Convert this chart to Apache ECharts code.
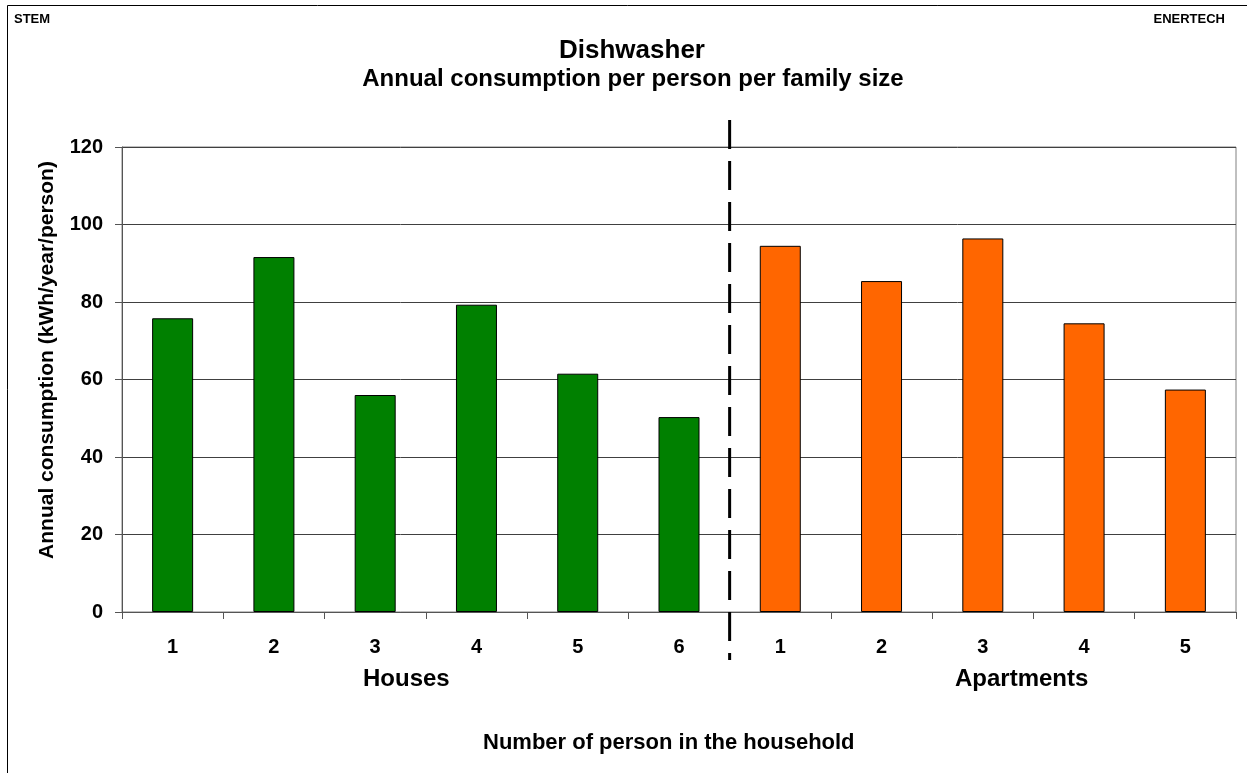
<!DOCTYPE html>
<html>
<head>
<meta charset="utf-8">
<script src="https://cdn.jsdelivr.net/npm/echarts@6/dist/echarts.min.js"></script>
<style>
html,body{margin:0;padding:0;background:#fff;}
#chart{width:1247px;height:773px;}
</style>
</head>
<body>
<div id="chart"></div>
<script>
var houseCategories = ['1','2','3','4','5','6'];
var apartmentCategories = ['1','2','3','4','5'];
var houseValues = [75.8, 91.6, 56.0, 79.3, 61.5, 50.3];
var apartmentValues = [94.5, 85.4, 96.4, 74.5, 57.4];
var yTicks = [0, 20, 40, 60, 80, 100, 120];

var FONT = 'Liberation Sans, Arial, sans-serif';
var categories = houseCategories.concat(apartmentCategories);
var houseData = houseValues.concat(apartmentCategories.map(function(){return null;}));
var aptData = houseCategories.map(function(){return null;}).concat(apartmentValues);

var chart = echarts.init(document.getElementById('chart'));
var option = {
  backgroundColor: '#fff',
  animation: false,
  title: [
    {text: 'Dishwasher', left: 627, top: 33, textAlign: 'center',
     textStyle: {fontFamily: FONT, fontWeight: 'bold', fontSize: 26, color: '#000'}},
    {text: 'Annual consumption per person per family size', left: 628, top: 62, textAlign: 'center',
     textStyle: {fontFamily: FONT, fontWeight: 'bold', fontSize: 24, color: '#000'}},
    {text: 'STEM', left: 9, top: 8,
     textStyle: {fontFamily: FONT, fontWeight: 'bold', fontSize: 13, color: '#000'}},
    {text: 'ENERTECH', right: 17, top: 8,
     textStyle: {fontFamily: FONT, fontWeight: 'bold', fontSize: 13, color: '#000'}}
  ],
  grid: {left: 122, right: 11, top: 147, bottom: 161, show: true, borderColor: '#808080', borderWidth: 1},
  xAxis: {
    type: 'category',
    data: categories,
    boundaryGap: true,
    axisLine: {lineStyle: {color: '#555', width: 1}},
    axisTick: {show: true, inside: false, length: 7, lineStyle: {color: '#555'}},
    axisLabel: {margin: 25, fontFamily: FONT, fontWeight: 'bold', fontSize: 20, color: '#000'},
    splitLine: {show: false}
  },
  yAxis: {
    type: 'value',
    min: yTicks[0], max: yTicks[yTicks.length - 1], interval: yTicks[1] - yTicks[0],
    axisLine: {show: true, lineStyle: {color: '#555', width: 1}},
    axisTick: {show: true, inside: false, length: 7, lineStyle: {color: '#555'}},
    axisLabel: {margin: 19, fontFamily: FONT, fontWeight: 'bold', fontSize: 20, color: '#000'},
    splitLine: {show: true, lineStyle: {color: '#404040', width: 1}}
  },
  series: [
    {type: 'bar', name: 'Houses', data: houseData, barWidth: 41, barGap: '-100%',
     itemStyle: {color: '#008000', borderColor: '#000', borderWidth: 1}},
    {type: 'bar', name: 'Apartments', data: aptData, barWidth: 41, barGap: '-100%',
     itemStyle: {color: '#FF6600', borderColor: '#000', borderWidth: 1}}
  ]
};
chart.setOption(option);

var p5 = chart.convertToPixel({xAxisIndex: 0}, houseCategories.length - 1);
var p6 = chart.convertToPixel({xAxisIndex: 0}, houseCategories.length);
var divX = (p5 + p6) / 2;
var yTop = chart.convertToPixel({yAxisIndex: 0}, yTicks[yTicks.length - 1]);

chart.setOption({
  graphic: [
    {type: 'line', z: 0, silent: true,
     shape: {x1: 7.5, y1: 773, x2: 7.5, y2: 5.5},
     style: {stroke: '#000', lineWidth: 1}},
    {type: 'line', z: 0, silent: true,
     shape: {x1: 7.5, y1: 5.5, x2: 1247, y2: 5.5},
     style: {stroke: '#000', lineWidth: 1}},
    {type: 'line', z: 100, silent: true,
     shape: {x1: divX, y1: yTop - 27, x2: divX, y2: 660},
     style: {stroke: '#000', lineWidth: 3, lineDash: [29, 12]}},
    {type: 'text', x: 47, y: 360, rotation: Math.PI / 2, silent: true,
     style: {text: 'Annual consumption (kWh/year/person)', font: 'bold 21px ' + FONT, fill: '#000',
             textAlign: 'center', textVerticalAlign: 'middle'}},
    {type: 'text', left: 363, top: 667,
     style: {text: 'Houses', font: 'bold 24px ' + FONT, fill: '#000'}},
    {type: 'text', left: 955, top: 667,
     style: {text: 'Apartments', font: 'bold 24px ' + FONT, fill: '#000'}},
    {type: 'text', left: 483, top: 732,
     style: {text: 'Number of person in the household', font: 'bold 22px ' + FONT, fill: '#000'}}
  ]
});
</script>
</body>
</html>
